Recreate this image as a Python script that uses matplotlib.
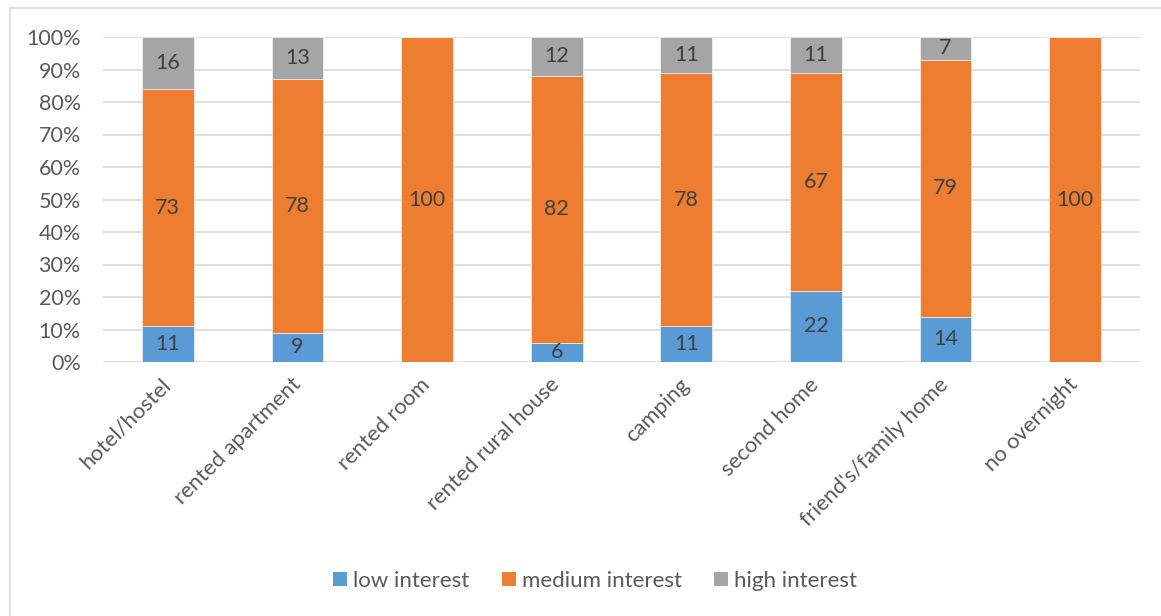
import matplotlib
matplotlib.use("Agg")
import matplotlib.pyplot as plt
from matplotlib.patches import Rectangle, Patch
import numpy as np

categories = ["hotel/hostel", "rented apartment", "rented room", "rented rural house",
              "camping", "second home", "friend's/family home", "no overnight"]
low = [11, 9, 0, 6, 11, 22, 14, 0]
medium = [73, 78, 100, 82, 78, 67, 79, 100]
high = [16, 13, 0, 12, 11, 11, 7, 0]
series_names = ["low interest", "medium interest", "high interest"]
colors = ["#5B9BD5", "#ED7D31", "#A5A5A5"]
ytick_labels = [f"{v}%" for v in range(0, 101, 10)]

plt.rcParams["font.family"] = ["Lato", "DejaVu Sans"]
text_color = "#595959"

W, H = 1161, 616
fig = plt.figure(figsize=(W / 100, H / 100), dpi=100)

# plot area in pixel coordinates
left, right, top, bottom = 103, 1140, 37, 362
ax = fig.add_axes([left / W, 1 - bottom / H, (right - left) / W, (bottom - top) / H])

x = np.arange(len(categories))
width = 0.4
bottoms = np.zeros(len(categories))
for vals, c in zip([low, medium, high], colors):
    vals = np.array(vals, dtype=float)
    ax.bar(x, vals, width, bottom=bottoms, color=c, edgecolor="white", linewidth=0.4, zorder=3)
    for xi, v, b in zip(x, vals, bottoms):
        if v > 0:
            ax.text(xi, b + v / 2, f"{int(v)}", ha="center", va="center",
                    fontsize=15.5, color="#404040", zorder=4)
    bottoms += vals

ax.set_xlim(-0.5, len(categories) - 0.5)
ax.set_ylim(0, 100)
ax.set_yticks(range(0, 101, 10))
ax.set_yticklabels(ytick_labels, fontsize=15.5, color=text_color)
ax.yaxis.grid(True, color="#D9D9D9", linewidth=1.2, zorder=0)
ax.set_axisbelow(True)
for s in ax.spines.values():
    s.set_visible(False)
ax.tick_params(axis="y", length=0, pad=16)
ax.tick_params(axis="x", length=0)

ax.set_xticks(x)
ax.set_xticklabels(categories, rotation=45, ha="right", va="center",
                   rotation_mode="anchor", fontsize=15.8, color=text_color)
ax.tick_params(axis="x", pad=14)

# legend
handles = [Patch(facecolor=c, edgecolor="none") for c in colors]
fig.legend(handles, series_names, loc="center", bbox_to_anchor=(595 / W, 1 - 581 / H),
           ncol=3, frameon=False, fontsize=16, labelcolor=text_color,
           handlelength=0.63, handleheight=0.63, handletextpad=0.27, columnspacing=1.45)

# chart frame
fig.patches.append(Rectangle((9.5 / W, -0.1), 1.2, 1 - 7.5 / H + 0.1, transform=fig.transFigure,
                             facecolor="none", edgecolor="#D9D9D9", linewidth=1.2))

fig.savefig("out.png", dpi=100)
